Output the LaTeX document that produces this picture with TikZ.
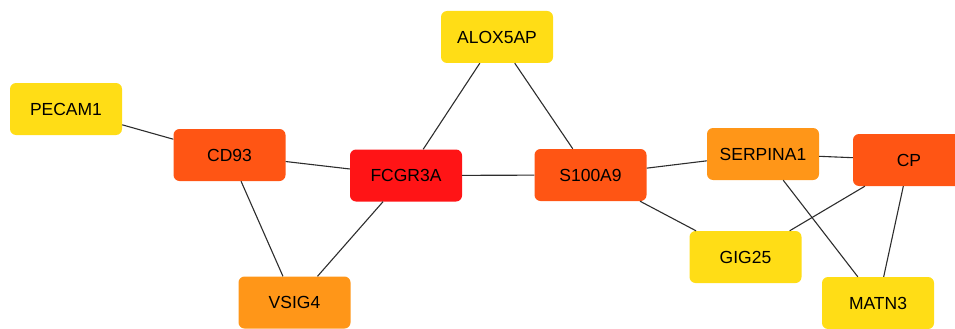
\documentclass[tikz,border=0pt]{standalone}
\usepackage{fontspec}
\setmainfont{Liberation Sans}

\definecolor{hubred}{RGB}{255,20,22}
\definecolor{hubdark}{RGB}{255,85,20}
\definecolor{huborange}{RGB}{255,150,24}
\definecolor{hubyellow}{RGB}{255,221,22}
\definecolor{edgegray}{RGB}{45,45,45}

\begin{document}
\begin{tikzpicture}[x=1pt, y=-1pt,
    gene/.style={rectangle, rounded corners=6pt, minimum width=112pt, minimum height=52pt,
                 inner sep=0pt, font=\fontsize{17.5}{20}\selectfont},
    link/.style={draw=edgegray, line width=1.1pt}]
    \useasboundingbox (0,0) rectangle (955,329);
    \clip (0,0) rectangle (955,329);

    % Draw nodes
    \node[gene, fill=hubyellow] (pecam1) at (66,109) {PECAM1};
    \node[gene, fill=hubdark] (cd93) at (229.5,155) {CD93};
    \node[gene, fill=hubred] (fcgr3a) at (406,175.5) {FCGR3A};
    \node[gene, fill=hubyellow] (alox5ap) at (497,37) {ALOX5AP};
    \node[gene, fill=hubdark] (s100a9) at (590.5,175) {S100A9};
    \node[gene, fill=huborange] (serpina1) at (763,154) {SERPINA1};
    \node[gene, fill=hubdark] (cp) at (909,160) {CP};
    \node[gene, fill=hubyellow] (gig25) at (745.5,257) {GIG25};
    \node[gene, fill=huborange] (vsig4) at (294.5,302.5) {VSIG4};
    \node[gene, fill=hubyellow] (matn3) at (878,303) {MATN3};

    % Draw connections
    \draw[link] (pecam1) -- (cd93);
    \draw[link] (cd93) -- (fcgr3a);
    \draw[link] (cd93) -- (vsig4);
    \draw[link] (fcgr3a) -- (vsig4);
    \draw[link] (fcgr3a) -- (alox5ap);
    \draw[link] (fcgr3a) -- (s100a9);
    \draw[link] (alox5ap) -- (s100a9);
    \draw[link] (s100a9) -- (serpina1);
    \draw[link] (s100a9) -- (gig25);
    \draw[link] (serpina1) -- (cp);
    \draw[link] (serpina1) -- (matn3);
    \draw[link] (gig25) -- (cp);
    \draw[link] (cp) -- (matn3);
\end{tikzpicture}
\end{document}
